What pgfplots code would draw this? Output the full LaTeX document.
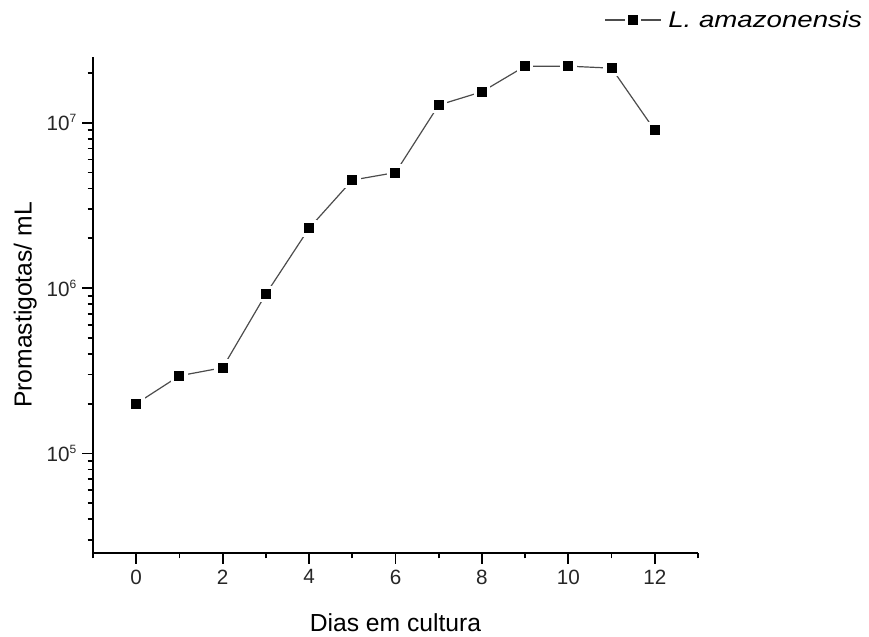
\documentclass[border=0pt]{standalone}
\usepackage{pgfplots}
\pgfplotsset{compat=1.18}
\usepackage{fontspec}
\setmainfont{Liberation Sans}
\begin{document}
\begin{tikzpicture}
\begin{axis}[
  scale only axis,
  width=453.75pt, height=372pt,
  ymode=log,
  xmin=-1, xmax=13,
  ymin=2.5e4, ymax=2.5e7,
  axis x line=bottom, axis y line=left,
  axis line style={-, line width=1.3pt},
  every tick/.style={black, line width=1.3pt},
  tick align=outside,
  major tick length=8pt, minor tick length=4pt,
  xtick={0,2,4,6,8,10,12},
  minor xtick={-1,1,3,5,7,9,11,13},
  ytick={1e5,1e6,1e7},
  yticklabels={10\raisebox{0.75ex}{\fontsize{9}{10}\selectfont 5},10\raisebox{0.75ex}{\fontsize{9}{10}\selectfont 6},10\raisebox{0.75ex}{\fontsize{9}{10}\selectfont 7}},
  minor ytick={3e4,4e4,5e4,6e4,7e4,8e4,9e4,2e5,3e5,4e5,5e5,6e5,7e5,8e5,9e5,2e6,3e6,4e6,5e6,6e6,7e6,8e6,9e6,2e7},
  /pgf/number format/assume math mode=true,
  tick label style={font=\fontsize{15.5}{18}\selectfont, text=black!85},
  xticklabel style={yshift=-1pt},
  yticklabel style={xshift=-1pt},
  xlabel={Dias em cultura},
  ylabel={Promastigotas/ mL},
  label style={font=\fontsize{18.5}{21}\selectfont},
  xlabel style={at={(axis description cs:0.5,-0.141)}, anchor=center},
  ylabel style={at={(axis description cs:-0.112,0.5)}, anchor=center},
  legend style={at={(rel axis cs:1.276,1.0746)}, anchor=east, draw=none, fill=none, inner sep=0pt,
    font=\fontsize{17}{20}\selectfont\itshape,
    nodes={inner sep=2pt}},
  legend cell align=left,
  legend image code/.code={%
    \draw[#1,mark=none] (0pt,0pt) -- (42pt,0pt);
    \draw[#1,only marks] plot coordinates {(21pt,0pt)};
  },
  clip=false,
]
\addplot[black!70, line width=0.9pt, mark=square*,
  mark options={solid, fill=black, draw=white, line width=2.5pt}, mark size=5pt]
  coordinates {
  (0,2.0e5) (1,2.95e5) (2,3.3e5) (3,9.2e5) (4,2.3e6) (5,4.5e6) (6,5.0e6)
  (7,1.28e7) (8,1.54e7) (9,2.2e7) (10,2.2e7) (11,2.14e7) (12,9.0e6)
};
\addlegendentry{\hspace{3pt}\scalebox{1.22}[1]{L. amazonensis}}
\end{axis}
\path[use as bounding box] (-69.75pt,-62.25pt) rectangle (582pt,414.75pt);
\end{tikzpicture}
\end{document}
